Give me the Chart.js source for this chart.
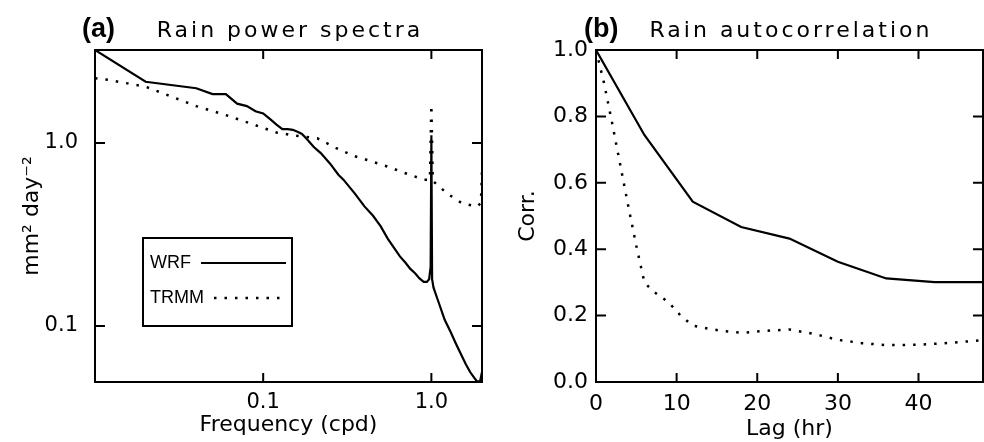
<!DOCTYPE html>
<html>
<head>
<meta charset="utf-8">
<script src="https://cdn.jsdelivr.net/npm/chart.js@4.4.1/dist/chart.umd.min.js"></script>
<style>
  html, body { margin: 0; padding: 0; background: #ffffff; }
  #wrap { position: relative; width: 984px; height: 442px; overflow: hidden; background: #fff; }
  #boxA { position: absolute; left: 0; top: 0; width: 490px; height: 442px; }
  #boxB { position: absolute; left: 490px; top: 0; width: 494px; height: 442px; }
</style>
</head>
<body>
<div id="wrap">
  <div id="boxA"><canvas id="chartA" width="490" height="442"></canvas></div>
  <div id="boxB"><canvas id="chartB" width="494" height="442"></canvas></div>
</div>
<script>
// ---------- Panel (a): rain power spectra ----------
const freqWRF = [0.01, 0.02, 0.04, 0.05, 0.06, 0.07, 0.08, 0.09, 0.10, 0.11, 0.12, 0.13, 0.14, 0.15, 0.16, 0.17, 0.18, 0.20, 0.22, 0.25, 0.28, 0.30, 0.35, 0.40, 0.45, 0.50, 0.55, 0.60, 0.65, 0.70, 0.75, 0.80, 0.85, 0.90, 0.94, 0.97, 0.99, 1.00, 1.01, 1.03, 1.10, 1.20, 1.30, 1.40, 1.50, 1.60, 1.70, 1.80, 1.87, 1.95, 2.00];
const powWRF  = [3.22, 2.16, 1.99, 1.85, 1.85, 1.64, 1.59, 1.49, 1.45, 1.35, 1.26, 1.19, 1.19, 1.18, 1.15, 1.12, 1.06, 0.95, 0.88, 0.77, 0.67, 0.63, 0.53, 0.45, 0.40, 0.35, 0.30, 0.267, 0.24, 0.222, 0.205, 0.194, 0.182, 0.174, 0.174, 0.18, 0.21, 1.10, 0.18, 0.162, 0.136, 0.108, 0.093, 0.080, 0.070, 0.062, 0.056, 0.052, 0.0497, 0.050, 0.056];

const freqTRMM = [0.01, 0.012, 0.02, 0.03, 0.04, 0.06, 0.09, 0.12, 0.13, 0.15, 0.18, 0.21, 0.27, 0.345, 0.41, 0.57, 0.65, 0.90, 0.98, 1.00, 1.02, 1.24, 1.52, 1.87, 1.97, 2.00];
const powTRMM  = [2.26, 2.21, 2.03, 1.76, 1.59, 1.42, 1.25, 1.14, 1.13, 1.10, 1.08, 1.06, 0.94, 0.85, 0.81, 0.735, 0.70, 0.63, 0.63, 1.61, 0.62, 0.53, 0.468, 0.449, 0.47, 0.70];

const spectraXTicks = [0.1, 1.0];
const spectraXTickLabels = ['0.1', '1.0'];
const spectraYTicks = [0.1, 1.0];
const spectraYTickLabels = ['0.1', '1.0'];

// ---------- Panel (b): rain autocorrelation ----------
const lagWRF  = [0, 6, 12, 18, 24, 30, 36, 42, 48];
const corrWRF = [1.0, 0.744, 0.543, 0.467, 0.432, 0.362, 0.312, 0.301, 0.301];

const lagTRMM  = [0, 1, 2, 3, 4, 5, 6, 7, 9, 10.5, 12, 14, 16, 18, 21, 24, 27, 30, 33, 36, 40, 44, 48];
const corrTRMM = [1.0, 0.90, 0.78, 0.655, 0.53, 0.41, 0.30, 0.275, 0.24, 0.20, 0.17, 0.16, 0.153, 0.148, 0.154, 0.158, 0.145, 0.127, 0.117, 0.111, 0.112, 0.118, 0.126];

const lagTicks = [0, 10, 20, 30, 40];
const lagTickLabels = ['0', '10', '20', '30', '40'];
const corrTicks = [0, 0.2, 0.4, 0.6, 0.8, 1.0];
const corrTickLabels = ['0.0', '0.2', '0.4', '0.6', '0.8', '1.0'];

const seriesNames = ['WRF', 'TRMM'];

const FONT = 'DejaVu Sans';
const BLACK = '#000000';

function pts(xs, ys) { return xs.map((x, i) => ({ x: x, y: ys[i] })); }

// Frame + inward tick marks, drawn from the library's scales
const frameTicks = {
  id: 'frameTicks',
  afterDatasetsDraw(chart) {
    const { ctx, chartArea: a, scales } = chart;
    ctx.save();
    ctx.strokeStyle = BLACK;
    ctx.lineWidth = 2;
    ctx.strokeRect(a.left, a.top, a.right - a.left, a.bottom - a.top);
    ctx.beginPath();
    scales.x.ticks.forEach(t => {
      const px = scales.x.getPixelForValue(t.value);
      ctx.moveTo(px, a.bottom); ctx.lineTo(px, a.bottom - 9);
      ctx.moveTo(px, a.top); ctx.lineTo(px, a.top + 9);
    });
    scales.y.ticks.forEach(t => {
      const py = scales.y.getPixelForValue(t.value);
      ctx.moveTo(a.left, py); ctx.lineTo(a.left + 10, py);
      ctx.moveTo(a.right, py); ctx.lineTo(a.right - 10, py);
    });
    ctx.stroke();
    ctx.restore();
  }
};

// Panel titles: bold tag + spaced title centred on plot area
const panelTitles = {
  id: 'panelTitles',
  afterDraw(chart, args, opts) {
    const { ctx, chartArea: a } = chart;
    ctx.save();
    ctx.fillStyle = BLACK;
    ctx.textBaseline = 'middle';
    ctx.textAlign = 'left';
    ctx.font = 'bold 27px "Liberation Sans"';
    ctx.fillText(opts.tag, opts.tagX, 30);
    ctx.font = '22px "' + FONT + '"';
    ctx.letterSpacing = '3px';
    ctx.textAlign = 'center';
    ctx.fillText(opts.text, (a.left + a.right) / 2 + 1.5, 31);
    ctx.restore();
  }
};

// Boxed legend inside panel (a)
const boxLegend = {
  id: 'boxLegend',
  afterDraw(chart, args, opts) {
    if (!opts.show) return;
    const { ctx, chartArea: a } = chart;
    const x0 = a.left + 48, y0 = a.top + 188, w = 149, h = 88;
    ctx.save();
    ctx.strokeStyle = BLACK; ctx.lineWidth = 2;
    ctx.strokeRect(x0, y0, w, h);
    ctx.font = '18px "Liberation Sans"';
    ctx.fillStyle = BLACK;
    ctx.textBaseline = 'middle';
    ctx.textAlign = 'left';
    chart.data.datasets.forEach((ds, i) => {
      const y = y0 + 25 + i * 35;
      ctx.fillText(ds.label, x0 + 7, y);
      const tw = ctx.measureText(ds.label).width;
      ctx.beginPath();
      ctx.lineWidth = ds.borderWidth;
      ctx.setLineDash(ds.borderDash || []);
      ctx.moveTo(x0 + 7 + tw + 10, y);
      ctx.lineTo(x0 + w - 6, y);
      ctx.stroke();
      ctx.setLineDash([]);
    });
    ctx.restore();
  }
};

function makeDatasets(x1, y1, x2, y2) {
  return [
    { label: seriesNames[0], data: pts(x1, y1), borderColor: BLACK, borderWidth: 2.2, pointRadius: 0, tension: 0, fill: false },
    { label: seriesNames[1], data: pts(x2, y2), borderColor: BLACK, borderWidth: 2.5, borderDash: [2.5, 8], pointRadius: 0, tension: 0, fill: false }
  ];
}

function axis(type, min, max, tickVals, tickLabels, tickPad, titleText, titlePad, fitFn, size) {
  return {
    type: type, min: min, max: max,
    afterBuildTicks: s => { s.ticks = tickVals.map(v => ({ value: v })); },
    afterFit: fitFn,
    ticks: {
      callback: (v, i) => tickLabels[i],
      color: BLACK, padding: tickPad, autoSkip: false, maxRotation: 0, minRotation: 0,
      font: { family: FONT, size: size }
    },
    grid: { display: false, drawTicks: false },
    border: { display: false },
    title: { display: true, text: titleText, color: BLACK, padding: titlePad, font: { family: FONT, size: 22 } }
  };
}

const chartA = new Chart(document.getElementById('chartA'), {
  type: 'line',
  data: { datasets: makeDatasets(freqWRF, powWRF, freqTRMM, powTRMM) },
  plugins: [frameTicks, panelTitles, boxLegend],
  options: {
    responsive: false, animation: false, devicePixelRatio: 1,
    layout: { padding: { left: 0, right: 8, top: 50, bottom: 0 } },
    plugins: {
      legend: { display: false }, tooltip: { enabled: false },
      panelTitles: { tag: '(a)', tagX: 82, text: 'Rain power spectra' },
      boxLegend: { show: true }
    },
    scales: {
      x: axis('logarithmic', 0.01, 2.0, spectraXTicks, spectraXTickLabels, 8, 'Frequency (cpd)', { top: 0, bottom: 4 }, s => { s.height = 60; }, 21),
      y: axis('logarithmic', 0.0494, 3.22, spectraYTicks, spectraYTickLabels, 17, 'mm\u00B2 day\u207B\u00B2', { top: 19, bottom: 0 }, s => { s.width = 95; }, 21)
    }
  }
});

const chartB = new Chart(document.getElementById('chartB'), {
  type: 'line',
  data: { datasets: makeDatasets(lagWRF, corrWRF, lagTRMM, corrTRMM) },
  plugins: [frameTicks, panelTitles],
  options: {
    responsive: false, animation: false, devicePixelRatio: 1,
    layout: { padding: { left: 0, right: 1, top: 50, bottom: 0 } },
    plugins: {
      legend: { display: false }, tooltip: { enabled: false },
      panelTitles: { tag: '(b)', tagX: 94, text: 'Rain autocorrelation' }
    },
    scales: {
      x: axis('linear', 0, 48, lagTicks, lagTickLabels, 9, 'Lag (hr)', { top: 0, bottom: 0 }, s => { s.height = 60; }, 22),
      y: axis('linear', 0, 1.0, corrTicks, corrTickLabels, 8, 'Corr.', { top: 25, bottom: 0 }, s => { s.width = 106; }, 22)
    }
  }
});
</script>
</body>
</html>
